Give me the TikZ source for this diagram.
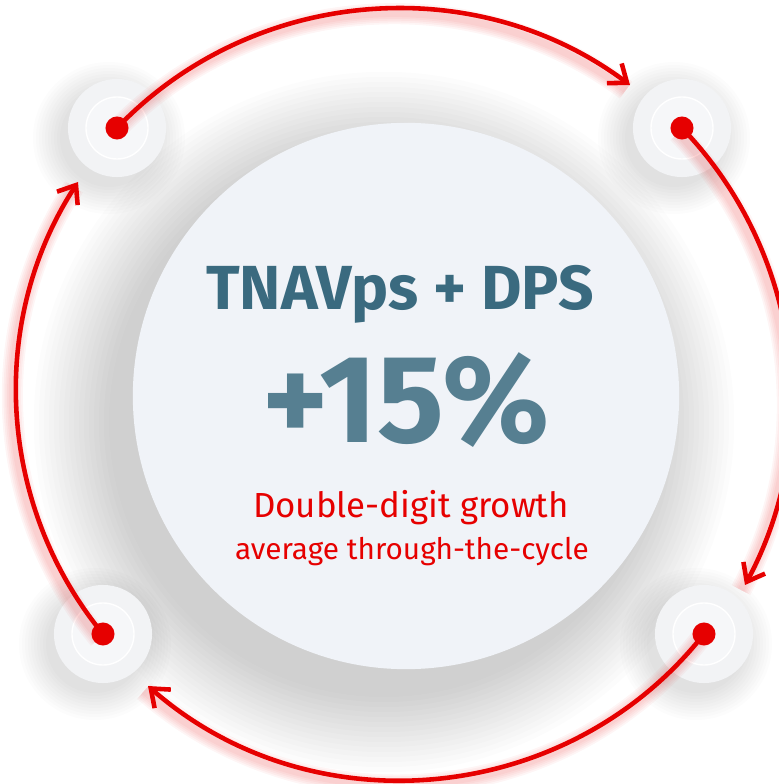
\documentclass[tikz,border=0pt]{standalone}
\usepackage{fontspec}
\setmainfont{Fira Sans}
\usetikzlibrary{arrows.meta}

\definecolor{discfill}{HTML}{F0F3F8}
\definecolor{ringout}{HTML}{F2F3F5}
\definecolor{ringin}{HTML}{F6F7F9}
\definecolor{tealtxt}{HTML}{3A6A7F}
\definecolor{pcttxt}{HTML}{567F91}
\definecolor{cyclered}{HTML}{E60000}

\tikzset{
  cycleline/.style={cyclered, line width=1.3pt, line cap=round,
    -{Straight Barb[length=4.5pt,width=7pt]}},
  cycleglow/.style={cyclered, line width=#1, opacity=0.04,
    transform canvas={xshift=-0.04cm,yshift=-0.05cm}},
  reddot/.style={circle, fill=cyclered, inner sep=0pt, minimum size=0.23cm},
}

\begin{document}
\begin{tikzpicture}[x=0.01cm,y=0.01cm]
\useasboundingbox (0,0) rectangle (779,784);

\foreach \k in {0,...,15}
  \fill[black, opacity=0.01] (384,362) circle[radius=2.75cm+\k*0.05cm];
\fill[discfill] (406,388) circle[radius=2.73cm];

\foreach \x/\y in {117/656, 682/656, 103/150, 704/150} {
  \foreach \k in {0,...,9}
    \fill[black, opacity=0.011] (\x-8,\y-10) circle[radius=0.49cm+\k*0.03cm];
  \fill[ringout] (\x,\y) circle[radius=0.49cm];
  \draw[white, fill=ringin, line width=0.4pt] (\x,\y) circle[radius=0.31cm];
}

\coordinate (tl) at (117,656);
\coordinate (tr) at (682,656);
\coordinate (bl) at (103,150);
\coordinate (br) at (704,150);
\coordinate (toptip) at (630,699);
\coordinate (righttip) at (745,199);
\coordinate (bottip) at (148,98);
\coordinate (lefttip) at (78,602);

\foreach \a/\b/\t/\l in {tl/toptip/41.5/0.97, tr/righttip/36.1/0.94,
                          br/bottip/46.5/1, bl/lefttip/36.2/0.94} {
  \foreach \w in {2,3,4,5,6}
    \draw[cycleglow=\w pt] (\a) to[bend left=\t, looseness=\l] (\b);
  \draw[cycleline] (\a) to[bend left=\t, looseness=\l] (\b);
}

\node[reddot] (tldot) at (tl) {};
\node[reddot] (trdot) at (tr) {};
\node[reddot] (bldot) at (bl) {};
\node[reddot] (brdot) at (br) {};

\node[tealtxt, font=\bfseries\fontsize{17.7}{21}\selectfont, anchor=base] (title) at (400,474) {TNAVps + DPS};
\node[pcttxt, font=\bfseries\fontsize{35.5}{42}\selectfont, anchor=base] (pct) at (406,341) {+15\%};
\node[cyclered, font=\fontsize{9.9}{12}\selectfont, anchor=base] (growth) at (411,267) {Double-digit growth};
\node[cyclered, font=\fontsize{8.45}{10}\selectfont, anchor=base] (cycle) at (412,224) {average through-the-cycle};
\end{tikzpicture}
\end{document}
